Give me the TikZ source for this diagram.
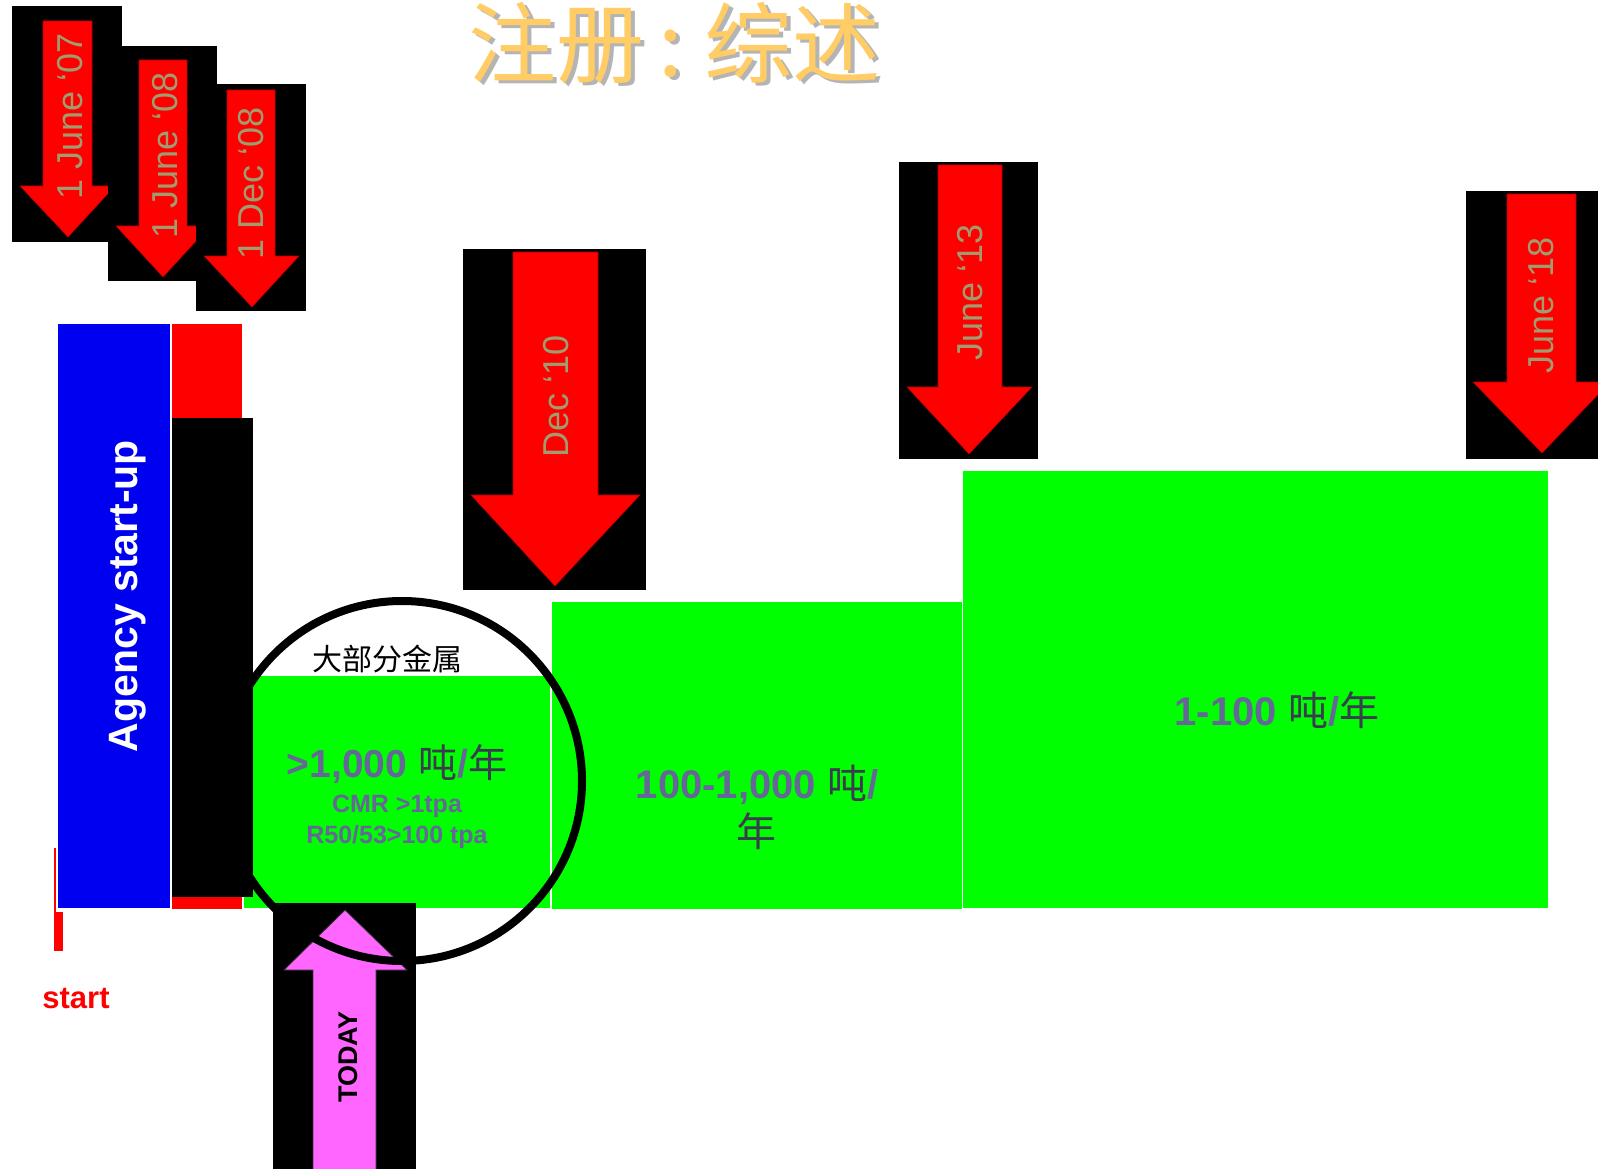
\documentclass[tikz,border=0pt]{standalone}
\usepackage{fontspec}
\setmainfont{Liberation Sans}
\newfontfamily\cjk{Noto Sans CJK SC}
\definecolor{datec}{HTML}{A09C70}
\definecolor{bluec}{HTML}{0000F0}
\definecolor{greenc}{HTML}{00FF00}
\definecolor{magc}{HTML}{FF66FF}
\definecolor{purpc}{HTML}{666699}
\definecolor{cjkc}{HTML}{3C3C50}
\definecolor{titlec}{HTML}{FFCC66}
\definecolor{titleshc}{HTML}{B4B4B4}
\newcommand\cj[1]{{\cjk\mdseries\color{cjkc}#1}}
\newcommand\DownArrow[8]{%
  \filldraw[datearrow] (#1,#3) -- (#2,#3) -- (#2,#4) -- (#6,#4) -- (#7,#8) -- (#5,#4) -- (#1,#4) -- cycle;}
\tikzset{
  datebox/.style={fill=black},
  datearrow/.style={fill=red, draw=red!70!black, line width=0.6pt},
  datetext/.style={rotate=90, anchor=base, inner sep=0pt, text=datec,
    font=\fontsize{36}{36}\selectfont},
  greenbox/.style={fill=greenc},
  purptext/.style={inner sep=0pt, anchor=base, text=purpc, align=center},
  titletext/.style={anchor=base west, inner sep=0pt, font=\cjk\fontsize{88}{88}\selectfont},
}
\begin{document}
\begin{tikzpicture}[x=1pt,y=-1pt]
\useasboundingbox (0,0) rectangle (1598,1169);
\clip (0,0) rectangle (1598,1169);

% title
\node[titletext, text=titleshc] (titlesh) at (472,80) {注册\kern14pt:\kern22pt 综述};
\node[titletext, text=titlec] (title) at (468,77) {注册\kern14pt:\kern22pt 综述};

% early date arrows
\fill[datebox] (12,6) rectangle (122,242);
\DownArrow{43}{92}{21}{186}{20}{115}{68}{237}
\node[datetext] (d1) at (82,116) {1 June ‘07};
\fill[datebox] (108,46) rectangle (217,281);
\DownArrow{139}{187}{60}{226}{116}{210}{163}{277}
\node[datetext] (d2) at (177,155) {1 June ‘08};
\fill[datebox] (196,84) rectangle (306,311);
\DownArrow{227}{275}{90}{256}{204}{299}{252}{307}
\node[datetext] (d3) at (263,183) {1 Dec ‘08};

% Dec 10
\fill[datebox] (463,249) rectangle (646,590);
\DownArrow{513}{598}{252}{495}{471}{640}{555}{586}
\node[datetext] (d4) at (568,396) {Dec ‘10};

% June 13
\fill[datebox] (899,162) rectangle (1038,459);
\DownArrow{938}{1002}{165}{387}{907}{1032}{969}{454}
\node[datetext] (d5) at (982,292) {June ‘13};

% June 18
\fill[datebox] (1466,191) rectangle (1610,459);
\DownArrow{1507}{1576}{194}{382}{1473}{1610}{1542}{453}
\node[datetext] (d6) at (1553,305) {June ‘18};

% left bars
\fill[bluec] (58,324) rectangle (170,908);
\fill[red] (172,324) rectangle (242,909);
\node[rotate=90, anchor=base, inner sep=0pt, text=white, font=\bfseries\fontsize{41}{41}\selectfont] (agency) at (137,596) {Agency start-up};

% green bands
\fill[greenc] (244,676) rectangle (550,908);
\fill[greenc] (552,602) rectangle (962,909);
\fill[greenc] (963,471) rectangle (1548,908);

\fill[black] (172,418) rectangle (253,897);

% start marker
\fill[red] (54,848) rectangle (56,912);
\fill[red] (54,912) rectangle (63,951);
\node[anchor=base, inner sep=0pt, text=red, font=\bfseries\fontsize{31}{31}\selectfont] (start) at (76,1008) {start};

% today arrow
\fill[black] (273,903) rectangle (416,1175);
\filldraw[fill=magc, draw=black!80, line width=0.8pt] (313,1175) -- (313,970) -- (284,970) -- (345,910) -- (407,970) -- (376,970) -- (376,1175) -- cycle;
\node[rotate=90, anchor=base, inner sep=0pt, text=black, font=\bfseries\fontsize{27}{27}\selectfont] (today) at (357,1057) {TODAY};

% circle
\draw[line width=8pt] (402,781) circle[radius=180];

% texts
\node[inner sep=0pt, font=\cjk\fontsize{30}{30}\selectfont] (metals) at (387,659) {大部分金属};
\node[purptext, font=\bfseries\fontsize{39}{39}\selectfont] (t1) at (397,777) {>1,000 \cj{吨}/\cj{年}};
\node[purptext, font=\bfseries\fontsize{25}{25}\selectfont] (t1b) at (397,812) {CMR >1tpa};
\node[purptext, font=\bfseries\fontsize{25}{25}\selectfont] (t1c) at (397,843) {R50/53>100 tpa};
\node[purptext, font=\bfseries\fontsize{40}{40}\selectfont] (t2) at (757,798) {100-1,000 \cj{吨}/};
\node[purptext, font=\bfseries\fontsize{40}{40}\selectfont] (t2b) at (756,846) {\cj{年}};
\node[purptext, font=\bfseries\fontsize{40}{40}\selectfont] (t3) at (1277,725) {1-100 \cj{吨}/\cj{年}};
\end{tikzpicture}
\end{document}
